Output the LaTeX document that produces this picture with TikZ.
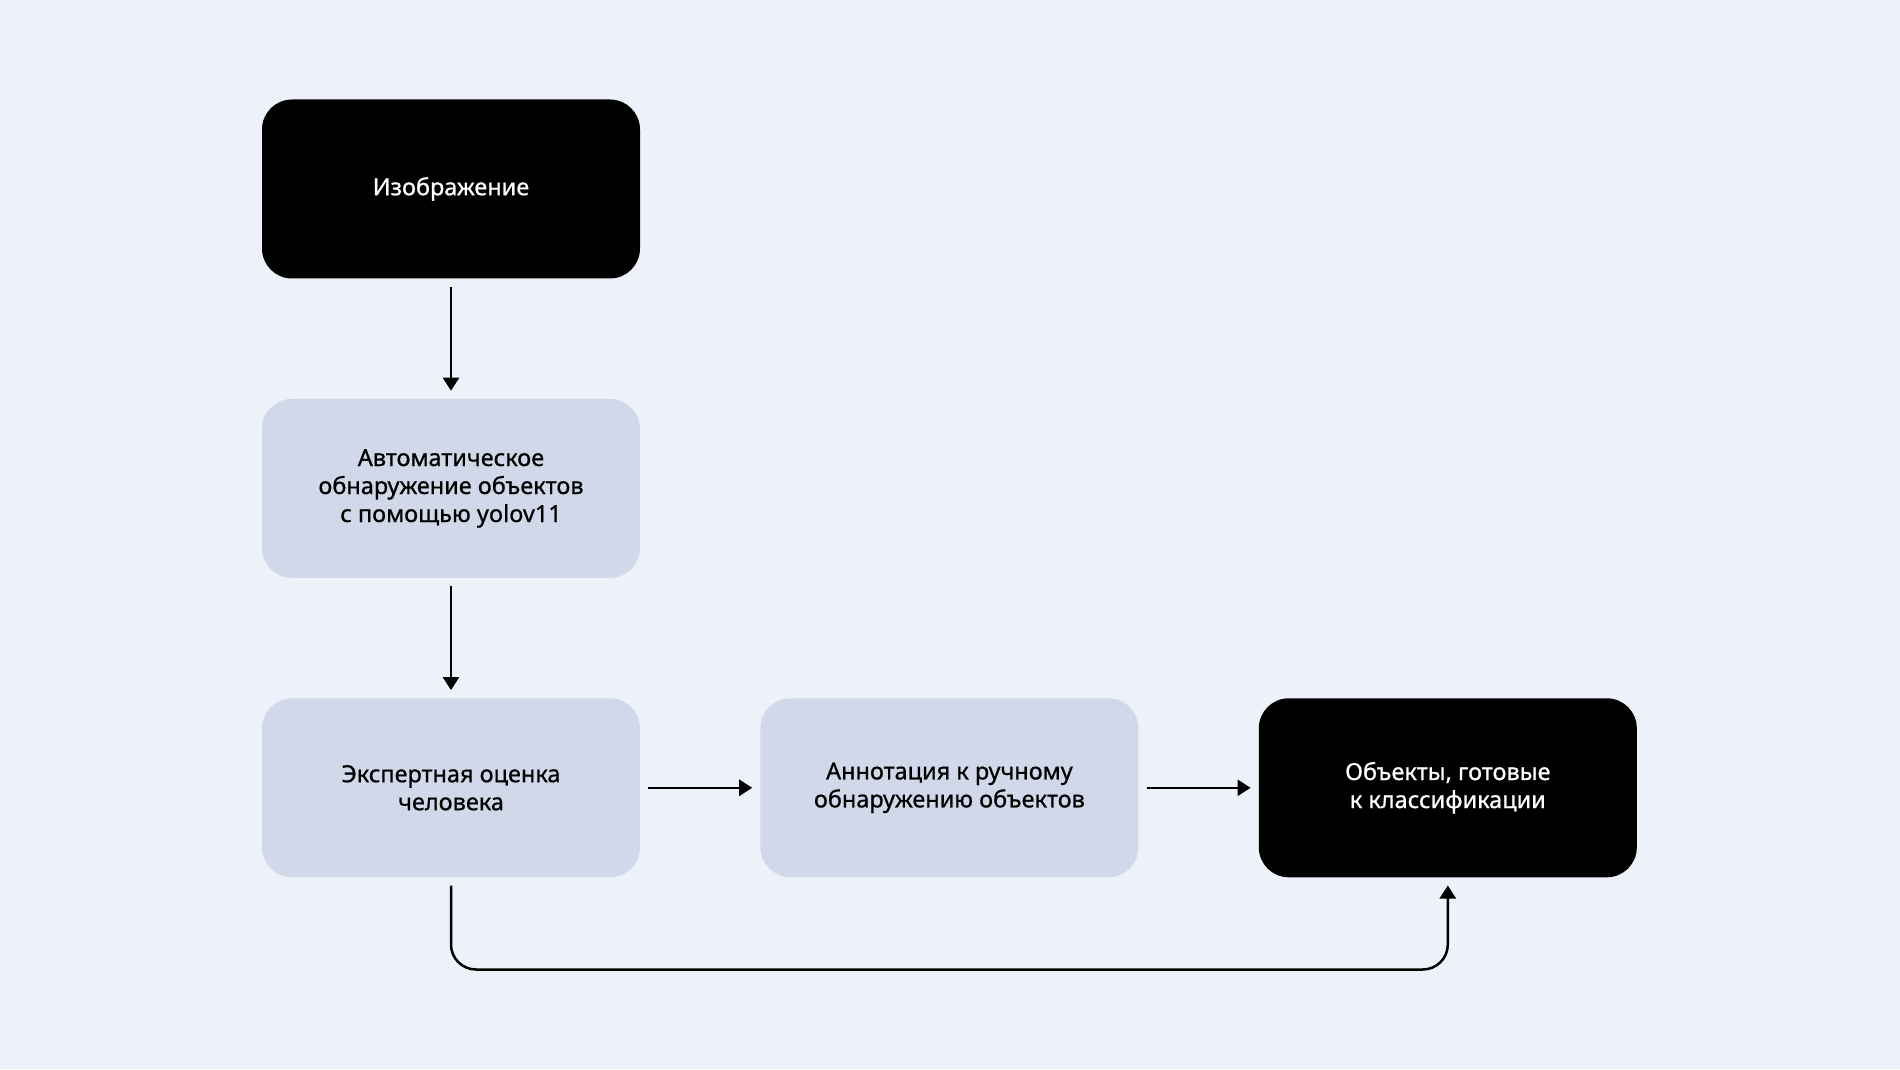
\documentclass[tikz,border=0pt]{standalone}
\usepackage{fontspec}
\setmainfont{Noto Sans}
\newfontfamily\stagefont{Noto Sans}[FakeBold=0.8]
\usepackage{xcolor}
\usepackage{tikz}
\usetikzlibrary{positioning}
\usetikzlibrary{arrows.meta}
\definecolor{pagebg}{RGB}{237,241,249}
\definecolor{boxbg}{RGB}{209,216,233}
\tikzset{stage/.style={rectangle,rounded corners=30pt,minimum width=378pt,minimum height=179pt,inner sep=0pt,align=center,font=\stagefont\fontsize{23.5}{28}\selectfont}}
\tikzset{darkstage/.style={stage,fill=black,text=white}}
\tikzset{lightstage/.style={stage,fill=boxbg,text=black}}
\tikzset{flow/.style={draw,line width=2.5pt,-{Triangle[width=16pt,length=13pt]},shorten <=8pt,shorten >=8pt}}

\begin{document}
\begin{tikzpicture}[x=1pt,y=1pt,node distance=120pt]
    % background, fixes the page size
    \fill[pagebg] (0,0) rectangle (1900,1069);
    \useasboundingbox (0,0) rectangle (1900,1069);

    % the stages
    \node[darkstage] (image) at (451,880) {Изображение};
    \node[lightstage, below=of image] (detect) {Автоматическое\\обнаружение объектов\\с помощью yolov11};
    \node[lightstage, below=of detect] (expert) {Экспертная оценка\\человека};
    \node[lightstage, right=of expert] (manual) {Аннотация к ручному\\обнаружению объектов};
    \node[darkstage, right=of manual] (ready) {Объекты, готовые\\к классификации};

    % connectors
    \foreach \source/\dest in {image/detect, detect/expert, expert/manual, manual/ready}
        \path[flow] (\source) -- (\dest);
    \path[flow, rounded corners=25pt] (expert.south) -- ++(0,-92) -| (ready.south);
\end{tikzpicture}
\end{document}
